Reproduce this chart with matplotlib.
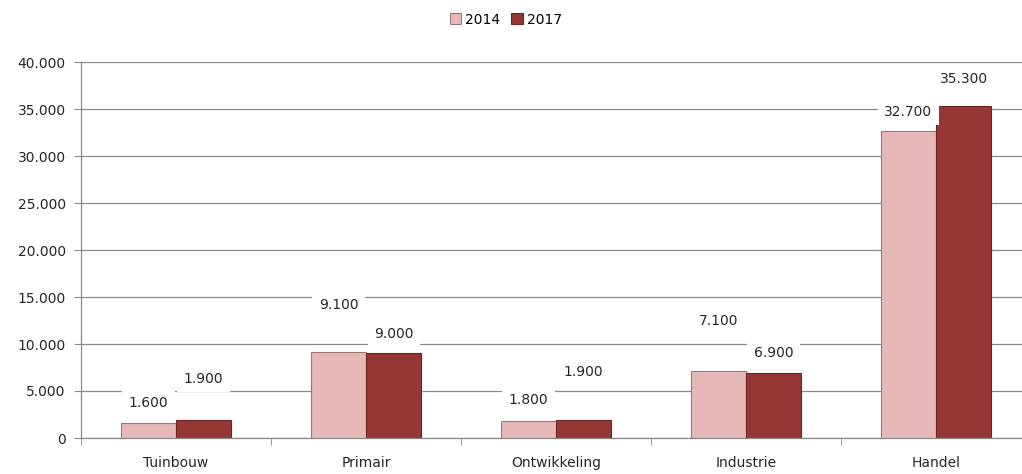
import matplotlib.pyplot as plt
import numpy as np
from matplotlib.ticker import FuncFormatter, FixedLocator

categories = ["Tuinbouw", "Primair", "Ontwikkeling", "Industrie", "Handel"]
vals_2014 = [1600, 9100, 1800, 7100, 32700]
vals_2017 = [1900, 9000, 1900, 6900, 35300]
# label offsets above bar top (points), as placed in the original
off_2014 = [14.4, 34, 15, 36, 13.7]
off_2017 = [29.5, 13.7, 34.6, 14.4, 19.4]

c14 = "#E6B9B8"
c17 = "#953735"

plt.rcParams['font.family'] = ['DejaVu Sans']
fig = plt.figure(figsize=(10.22, 4.74), dpi=100)
# plot area runs a little past the right edge of the image, as in the original
ax = fig.add_axes([81/1022, 1 - 438/474, (1031-81)/1022, (438-62)/474])

x = np.arange(len(categories))
w = 0.29
b1 = ax.bar(x - w/2, vals_2014, w, color=c14, edgecolor="#9c7a7a", linewidth=0.8, label="2014", zorder=2)
b2 = ax.bar(x + w/2, vals_2017, w, color=c17, edgecolor="#6e2422", linewidth=0.8, label="2017", zorder=2)

def fmt(v, pos=None):
    return f"{int(v):,}".replace(",", ".")

for bars, vals, offs in [(b1, vals_2014, off_2014), (b2, vals_2017, off_2017)]:
    for r, v, o in zip(bars, vals, offs):
        ax.annotate(fmt(v), (r.get_x() + r.get_width()/2, v), xytext=(0, o),
                    textcoords="offset points", ha="center", va="center",
                    fontsize=10, color="#262626", zorder=4,
                    bbox=dict(boxstyle="square,pad=0.45", fc="white", ec="none"))

ax.set_ylim(0, 40000)
ax.set_xlim(-0.5, len(categories) - 0.5)
ax.yaxis.set_major_locator(FixedLocator(np.arange(0, 40001, 5000)))
ax.yaxis.set_major_formatter(FuncFormatter(fmt))
ax.grid(axis="y", color="#8a8a8a", linewidth=0.9, zorder=0)
ax.set_axisbelow(True)

ax.set_xticks(x)
ax.set_xticklabels(categories)
ax.set_xticks(np.arange(-0.5, len(categories), 1), minor=True)
ax.tick_params(axis="x", which="major", length=0, pad=13)
ax.tick_params(axis="x", which="minor", length=5, color="#8a8a8a")
ax.tick_params(axis="y", length=5, color="#8a8a8a", pad=6)
ax.tick_params(labelsize=10, labelcolor="#262626")

for s in ["top", "right"]:
    ax.spines[s].set_visible(False)
for s in ["left", "bottom"]:
    ax.spines[s].set_color("#8a8a8a")
    ax.spines[s].set_linewidth(0.9)

fig.legend(handles=[b1, b2], loc="upper center", bbox_to_anchor=(0.495, 1.0), ncol=2,
           frameon=False, fontsize=10, handlelength=0.8, handleheight=0.8,
           handletextpad=0.3, columnspacing=0.8)

fig.savefig("out.png", dpi=100)
